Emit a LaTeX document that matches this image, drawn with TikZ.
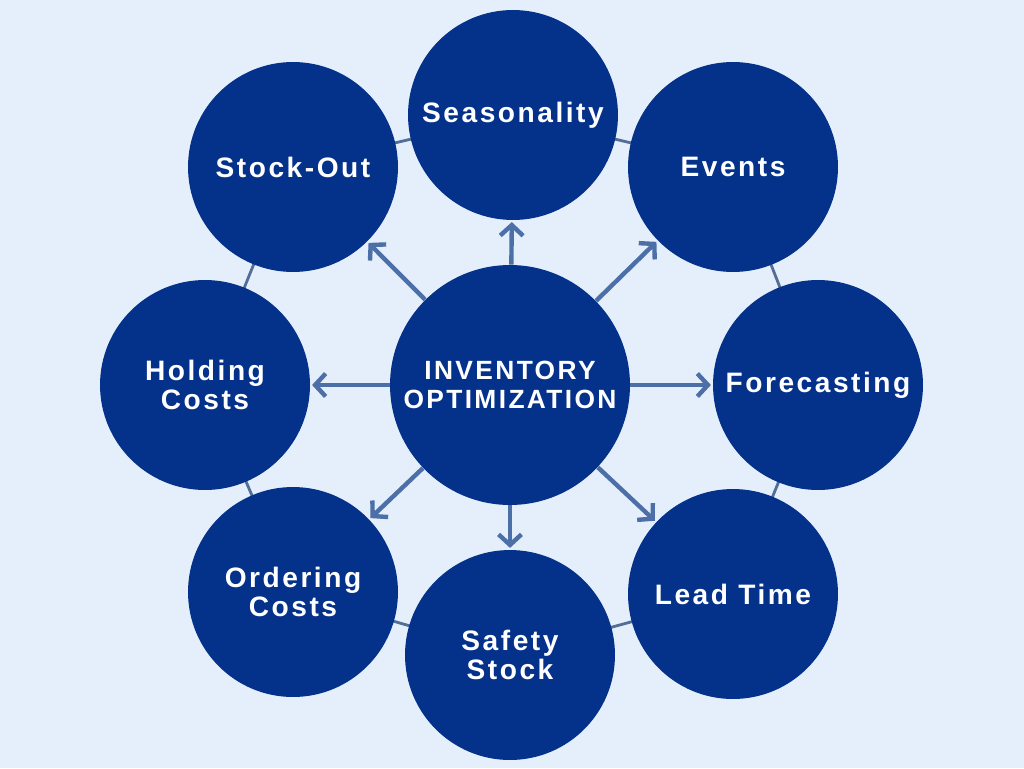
\documentclass[tikz,border=0pt]{standalone}
\usepackage{fontspec}
\newfontfamily\circlefont{Liberation Sans}[LetterSpace=9]
\usetikzlibrary{arrows.meta}
\definecolor{paleblue}{RGB}{228, 239, 251}
\definecolor{deepnavy}{RGB}{4, 49, 138}
\definecolor{spokeblue}{RGB}{75, 111, 166}
\definecolor{ringblue}{RGB}{82, 110, 152}

\begin{document}
\begin{tikzpicture}[x=0.02cm, y=-0.02cm,
  hub/.style={circle, fill=deepnavy, minimum size=4.8cm, inner sep=0pt, text=white, align=center,
    font=\circlefont\bfseries\fontsize{15}{16.5}\selectfont},
  topic/.style={circle, fill=deepnavy, minimum size=4.2cm, inner sep=0pt, text=white, align=center,
    font=\circlefont\bfseries\fontsize{16}{16.5}\selectfont},
  spoke/.style={-{Straight Barb[length=6pt, width=13pt]}, line width=2.5pt, spokeblue, shorten >=1pt}]

  % ===== 背景 =====
  \fill[paleblue] (0,0) rectangle (1024,768);

  % 圆心位置
  \coordinate (c-seas) at (513,115);
  \coordinate (c-events) at (733,167);
  \coordinate (c-fore) at (818,385);
  \coordinate (c-lead) at (733,594);
  \coordinate (c-safety) at (510,655);
  \coordinate (c-order) at (293,592);
  \coordinate (c-hold) at (205,385);
  \coordinate (c-stock) at (293,167);

  % 外圈连线
  \draw[ringblue, line width=1.6pt] (c-seas) -- (c-events) -- (c-fore) -- (c-lead) -- (c-safety)
    -- (c-order) -- (c-hold) -- (c-stock) -- cycle;

  % ===== 圆 =====
  \node[hub] (hub) at (510,385) {INVENTORY\\OPTIMIZATION};
  \node[topic] (seas) at (c-seas) {Seasonality};
  \node[topic] (events) at (c-events) {Events};
  \node[topic] (fore) at (c-fore) {Forecasting};
  \node[topic] (lead) at (c-lead) {Lead Time};
  \node[topic] (safety) at (c-safety) {Safety\\Stock};
  \node[topic] (order) at (c-order) {Ordering\\Costs};
  \node[topic] (hold) at (c-hold) {Holding\\Costs};
  \node[topic] (stock) at (c-stock) {Stock-Out};

  % ===== 箭头 =====
  \foreach \t in {seas, events, fore, lead, safety, order, hold, stock}
    \draw[spoke] (hub) -- (\t);
\end{tikzpicture}
\end{document}
